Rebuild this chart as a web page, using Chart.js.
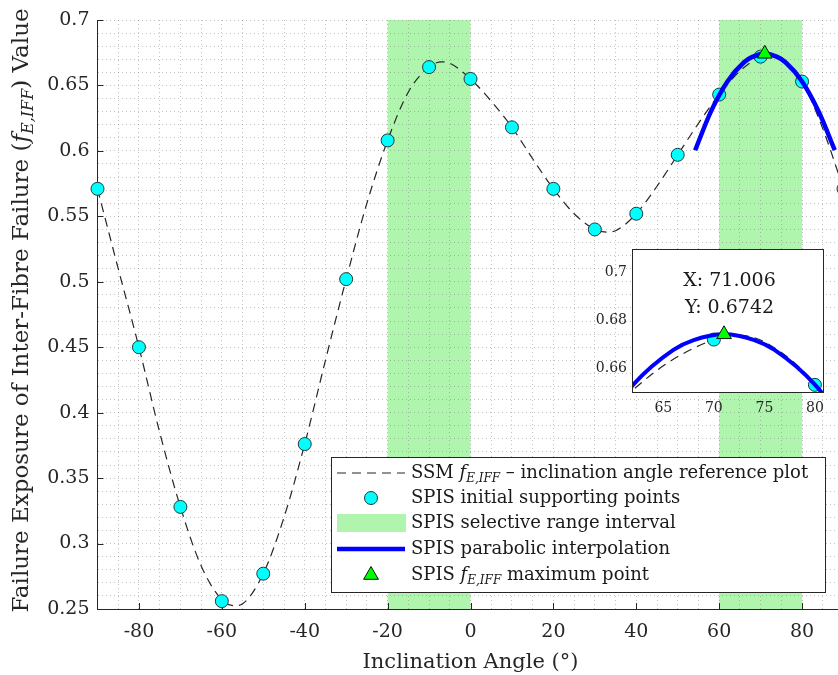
<!DOCTYPE html>
<html>
<head>
<meta charset="utf-8">
<script src="https://cdn.jsdelivr.net/npm/chart.js@4.4.1/dist/chart.umd.min.js"></script>
<style>
html, body { margin:0; padding:0; background:#fff; overflow:hidden; width:838px; height:675px; }
#wrap { position:relative; width:846px; height:675px; }
#main { position:absolute; left:0; top:0; }
#inset { position:absolute; left:575px; top:235px; }
</style>
</head>
<body>
<div id="wrap">
  <canvas id="main" width="846" height="675"></canvas>
  <canvas id="inset" width="260" height="190"></canvas>
</div>
<script>
// SPIS initial supporting points
var angles = [-90, -80, -70, -60, -50, -40, -30, -20, -10, 0, 10, 20, 30, 40, 50, 60, 70, 80, 90];
var spisValues = [0.571, 0.450, 0.328, 0.256, 0.277, 0.376, 0.502, 0.608, 0.664, 0.655, 0.618, 0.571, 0.540, 0.552, 0.597, 0.643, 0.672, 0.653, 0.571];

// SSM reference curve
var refAngles = [-90, -85, -80, -75, -70, -65, -60, -57, -55, -50, -45, -40, -35, -30, -25, -20, -15, -10, -7, -5, 0, 5, 10, 15, 20, 25, 30, 33, 35, 40, 45, 50, 55, 60, 65, 70, 72, 75, 80, 85, 90];
var refValues = [0.571, 0.510, 0.450, 0.385, 0.328, 0.283, 0.257, 0.2525, 0.254, 0.277, 0.320, 0.376, 0.440, 0.502, 0.560, 0.608, 0.645, 0.664, 0.668, 0.667, 0.655, 0.638, 0.618, 0.594, 0.571, 0.552, 0.540, 0.538, 0.539, 0.552, 0.573, 0.597, 0.621, 0.643, 0.661, 0.672, 0.674, 0.671, 0.653, 0.617, 0.571];

// parabolic interpolation (blue)
var paraAngles = [54.2, 58, 62, 66, 68, 71.006, 74, 76, 80, 84, 87.9];
var paraValues = [0.6005, 0.630, 0.653, 0.6677, 0.6718, 0.6742, 0.6718, 0.6677, 0.6531, 0.6301, 0.6005];

var maxAngle = [71.006];
var maxValue = [0.6742];

var rangeIntervals = [[-20, 0], [60, 80]];

var xTickLabels = [-80, -60, -40, -20, 0, 20, 40, 60, 80];
var yTickLabels = [0.25, 0.3, 0.35, 0.4, 0.45, 0.5, 0.55, 0.6, 0.65, 0.7];
var insetXTicks = [65, 70, 75, 80];
var insetYTicks = [0.66, 0.68, 0.7];

var FONT = '"DejaVu Serif", "Liberation Serif", serif';
var TXT = '#262626';
var BAND = '#b0f5ae';
var GRID = 'rgba(110,110,110,0.42)';

function pts(xs, ys) {
  return xs.map(function(x, i){ return {x: x, y: ys[i]}; });
}

function isMajor(list, v) {
  return list.some(function(t){ return Math.abs(t - v) < 1e-6; });
}

function richFont(p, size) {
  return (p.it ? 'italic ' : '') + (p.sub ? Math.round(size * 0.68) : size) + 'px ' + FONT;
}

function drawRich(ctx, parts, x, y, size, align) {
  var w = 0;
  parts.forEach(function(p){ ctx.font = richFont(p, size); w += ctx.measureText(p.t).width; });
  var cx = align === 'center' ? x - w / 2 : x;
  ctx.textAlign = 'left';
  parts.forEach(function(p){
    ctx.font = richFont(p, size);
    ctx.fillText(p.t, cx, y + (p.sub ? size * 0.3 : 0));
    cx += ctx.measureText(p.t).width;
  });
}

function datasets(big) {
  return [
    {
      label: 'ref', data: pts(refAngles, refValues), showLine: true,
      borderColor: TXT, borderWidth: 1.2, borderDash: [9, 6],
      pointRadius: 0, tension: 0.4, cubicInterpolationMode: 'monotone', order: 4
    },
    {
      label: 'points', data: pts(angles, spisValues), showLine: false,
      pointRadius: 6.5, pointBackgroundColor: '#00ffff', pointBorderColor: '#1d3b3b', pointBorderWidth: 1,
      clip: big ? false : 8, order: 3
    },
    {
      label: 'parabola', data: pts(paraAngles, paraValues), showLine: true,
      borderColor: '#0000ff', borderWidth: big ? 4.5 : 4, pointRadius: 0,
      tension: 0.4, cubicInterpolationMode: 'monotone', order: 2
    },
    {
      label: 'max', data: pts(maxAngle, maxValue), showLine: false,
      pointStyle: 'triangle', pointRadius: 8.5, pointBackgroundColor: '#00ff00', pointBorderColor: '#111', pointBorderWidth: 1,
      clip: false, order: 1
    }
  ];
}

// bands, inner tick marks, y title and legend for the main plot
var mainPlugin = {
  id: 'mainDecor',
  beforeDraw: function(chart) {
    var ctx = chart.ctx, a = chart.chartArea, xs = chart.scales.x;
    ctx.save();
    ctx.fillStyle = BAND;
    rangeIntervals.forEach(function(r){
      var x1 = xs.getPixelForValue(r[0]), x2 = xs.getPixelForValue(r[1]);
      ctx.fillRect(x1, a.top, x2 - x1, a.bottom - a.top);
    });
    ctx.restore();
  },
  beforeDatasetsDraw: function(chart) {
    var ctx = chart.ctx, a = chart.chartArea, xs = chart.scales.x, ys = chart.scales.y;
    ctx.save();
    ctx.strokeStyle = TXT;
    ctx.lineWidth = 1;
    ctx.beginPath();
    xTickLabels.forEach(function(v){
      var x = Math.round(xs.getPixelForValue(v)) + 0.5;
      ctx.moveTo(x, a.bottom); ctx.lineTo(x, a.bottom - 6);
    });
    yTickLabels.forEach(function(v){
      var y = Math.round(ys.getPixelForValue(v)) + 0.5;
      ctx.moveTo(a.left, y); ctx.lineTo(a.left + 6, y);
    });
    ctx.stroke();
    ctx.restore();
  },
  afterDraw: function(chart) {
    var ctx = chart.ctx, a = chart.chartArea;
    ctx.save();
    // y axis title
    ctx.fillStyle = TXT;
    ctx.textBaseline = 'middle';
    ctx.translate(22, (a.top + a.bottom) / 2 - 4);
    ctx.rotate(-Math.PI / 2);
    drawRich(ctx, [
      {t: 'Failure Exposure of Inter-Fibre Failure ('},
      {t: 'f', it: true}, {t: 'E,IFF', it: true, sub: true},
      {t: ') Value'}
    ], 0, 0, 23, 'center');
    ctx.restore();

    // legend
    ctx.save();
    var bx = 331.5, by = 457.5, bw = 494, bh = 135;
    ctx.fillStyle = '#fff';
    ctx.fillRect(bx, by, bw, bh);
    ctx.strokeStyle = TXT;
    ctx.lineWidth = 1;
    ctx.strokeRect(bx, by, bw, bh);
    var rows = [473, 498, 523, 549, 575];
    var sx1 = 337, sx2 = 405, sc = 371, tx = 411;
    // row 1: dashed
    ctx.setLineDash([9, 6]);
    ctx.lineWidth = 1.2;
    ctx.beginPath(); ctx.moveTo(sx1, rows[0]); ctx.lineTo(sx2, rows[0]); ctx.stroke();
    ctx.setLineDash([]);
    // row 2: cyan circle
    ctx.beginPath(); ctx.arc(sc, rows[1], 6.5, 0, Math.PI * 2);
    ctx.fillStyle = '#00ffff'; ctx.fill(); ctx.lineWidth = 1; ctx.strokeStyle = '#1d3b3b'; ctx.stroke();
    // row 3: band
    ctx.fillStyle = BAND;
    ctx.fillRect(sx1, rows[2] - 9, sx2 - sx1 + 1, 18);
    // row 4: blue line
    ctx.strokeStyle = '#0000ff'; ctx.lineWidth = 4.5;
    ctx.beginPath(); ctx.moveTo(sx1, rows[3]); ctx.lineTo(sx2, rows[3]); ctx.stroke();
    // row 5: triangle
    ctx.beginPath();
    ctx.moveTo(sc, rows[4] - 8.5); ctx.lineTo(sc + 7.4, rows[4] + 4.3); ctx.lineTo(sc - 7.4, rows[4] + 4.3); ctx.closePath();
    ctx.fillStyle = '#00ff00'; ctx.fill(); ctx.strokeStyle = '#111'; ctx.lineWidth = 1; ctx.stroke();

    ctx.fillStyle = '#1a1a1a';
    ctx.textBaseline = 'middle';
    var labels = [
      [{t: 'SSM '}, {t: 'f', it: true}, {t: 'E,IFF', it: true, sub: true}, {t: ' \u2013 inclination angle reference plot'}],
      [{t: 'SPIS initial supporting points'}],
      [{t: 'SPIS selective range interval'}],
      [{t: 'SPIS parabolic interpolation'}],
      [{t: 'SPIS '}, {t: 'f', it: true}, {t: 'E,IFF', it: true, sub: true}, {t: ' maximum point'}]
    ];
    labels.forEach(function(parts, i){ drawRich(ctx, parts, tx, rows[i], 18, 'left'); });
    ctx.restore();
  }
};

var mainChart = new Chart(document.getElementById('main').getContext('2d'), {
  type: 'scatter',
  data: { datasets: datasets(true) },
  options: {
    responsive: false, animation: false, devicePixelRatio: 1,
    // plot runs a little past the window's right edge, as in the source figure
    layout: { autoPadding: false, padding: { top: 20, right: 2.5, left: 0, bottom: 0 } },
    plugins: { legend: { display: false }, tooltip: { enabled: false } },
    scales: {
      x: {
        type: 'linear', min: -90, max: 90,
        afterBuildTicks: function(s){
          var t = [];
          for (var v = -90; v <= 90; v += 5) t.push({value: v});
          s.ticks = t;
        },
        afterFit: function(s){ s.height = 66; s.paddingLeft = 0; s.paddingRight = 0; },
        ticks: {
          autoSkip: false, maxRotation: 0, padding: 12, color: TXT,
          font: { family: FONT, size: 19 },
          callback: function(v){ return isMajor(xTickLabels, v) ? String(v) : ''; }
        },
        grid: { color: GRID, lineWidth: 1, drawTicks: false },
        border: { display: true, color: TXT, width: 1, dash: [1, 3] },
        title: { display: true, text: 'Inclination Angle (\u00b0)', color: TXT, font: { family: FONT, size: 21 }, padding: { top: 0, bottom: 0 } }
      },
      y: {
        type: 'linear', min: 0.25, max: 0.7,
        afterBuildTicks: function(s){
          var t = [];
          for (var i = 0; i <= 45; i++) t.push({value: Math.round((0.25 + i * 0.01) * 1000) / 1000});
          s.ticks = t;
        },
        afterFit: function(s){ s.width = 97.5; s.paddingTop = 0; s.paddingBottom = 0; },
        ticks: {
          autoSkip: false, padding: 8, color: TXT,
          font: { family: FONT, size: 19 },
          callback: function(v){ return isMajor(yTickLabels, v) ? String(Math.round(v * 100) / 100) : ''; }
        },
        grid: { color: GRID, lineWidth: 1, drawTicks: false },
        border: { display: true, color: TXT, width: 1, dash: [1, 3] }
      }
    }
  },
  plugins: [mainPlugin]
});

// zoomed inset around the maximum
var insetPlugin = {
  id: 'insetDecor',
  beforeDraw: function(chart) {
    var ctx = chart.ctx, a = chart.chartArea;
    ctx.save();
    ctx.fillStyle = '#fff';
    ctx.fillRect(a.left, a.top, a.right - a.left, a.bottom - a.top);
    ctx.restore();
  },
  afterDraw: function(chart) {
    var ctx = chart.ctx, a = chart.chartArea;
    ctx.save();
    ctx.strokeStyle = TXT;
    ctx.lineWidth = 1;
    ctx.strokeRect(Math.round(a.left) + 0.5, Math.round(a.top) + 0.5, Math.round(a.right - a.left), Math.round(a.bottom - a.top));
    ctx.fillStyle = '#1a1a1a';
    ctx.textAlign = 'center';
    ctx.textBaseline = 'middle';
    ctx.font = '19px ' + FONT;
    var cx = (a.left + a.right) / 2 + 2;
    ctx.fillText('X: ' + maxAngle[0].toFixed(3), cx, a.top + 32);
    ctx.fillText('Y: ' + maxValue[0].toFixed(4), cx, a.top + 59);
    ctx.restore();
  }
};

var insetChart = new Chart(document.getElementById('inset').getContext('2d'), {
  type: 'scatter',
  data: { datasets: datasets(false) },
  options: {
    responsive: false, animation: false, devicePixelRatio: 1,
    layout: { autoPadding: false, padding: { top: 14, right: 12, left: 0, bottom: 0 } },
    plugins: { legend: { display: false }, tooltip: { enabled: false } },
    scales: {
      x: {
        type: 'linear', min: 61.9, max: 80.8,
        afterBuildTicks: function(s){ s.ticks = insetXTicks.map(function(v){ return {value: v}; }); },
        afterFit: function(s){ s.height = 33; s.paddingLeft = 0; s.paddingRight = 0; },
        ticks: { autoSkip: false, maxRotation: 0, padding: 8, color: TXT, font: { family: FONT, size: 14 } },
        grid: { display: false, drawTicks: false },
        border: { display: false }
      },
      y: {
        type: 'linear', min: 0.65, max: 0.71,
        afterBuildTicks: function(s){ s.ticks = insetYTicks.map(function(v){ return {value: v}; }); },
        afterFit: function(s){ s.width = 57; s.paddingTop = 0; s.paddingBottom = 0; },
        ticks: { autoSkip: false, padding: 5, color: TXT, font: { family: FONT, size: 14 },
          callback: function(v){ return String(v); } },
        grid: { display: false, drawTicks: false },
        border: { display: false }
      }
    }
  },
  plugins: [insetPlugin]
});
</script>
</body>
</html>
